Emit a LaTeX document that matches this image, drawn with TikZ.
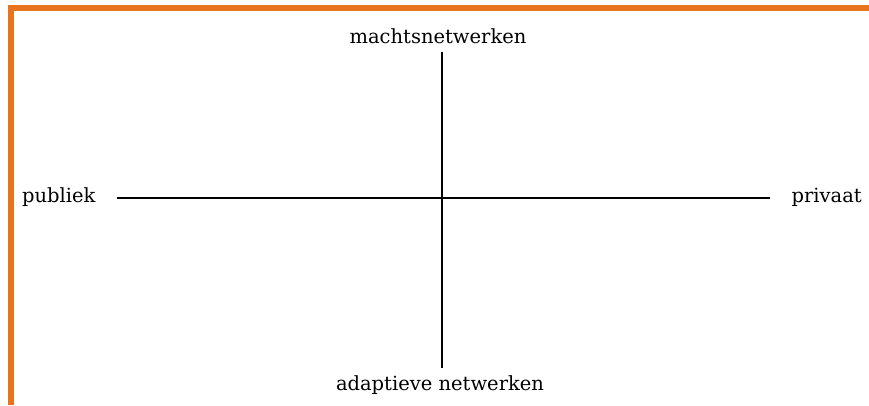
\documentclass[tikz,border=0pt]{standalone}
\usepackage{fontspec}
\setmainfont{DejaVu Serif}
\definecolor{frameorange}{HTML}{E8751E}
\begin{document}
\begin{tikzpicture}[x=1pt,y=-1pt,
  axis/.style={line width=1.4pt,black},
  lbl/.style={inner sep=0pt,font=\fontsize{19.5}{22}\selectfont}]
\useasboundingbox (0,0) rectangle (869,405);
\fill[white] (0,0) rectangle (869,405);
% orange frame along the top and left edges
\fill[frameorange] (8,5) rectangle (869,10.5);
\fill[frameorange] (8,5) rectangle (13.5,405);
% labels
\node[lbl] (top) at (438,36) {machtsnetwerken};
\node[lbl] (bot) at (440,385) {adaptieve netwerken};
\node[lbl,anchor=west] (left) at (22,197) {publiek};
\node[lbl,anchor=east] (right) at (862,197) {privaat};
% axes
\coordinate (vt) at (442,52);
\coordinate (vb) at (442,368);
\coordinate (hl) at (117,198);
\coordinate (hr) at (770,198);
\draw[axis] (vt) -- (vb);
\draw[axis] (hl) -- (hr);
\end{tikzpicture}
\end{document}
